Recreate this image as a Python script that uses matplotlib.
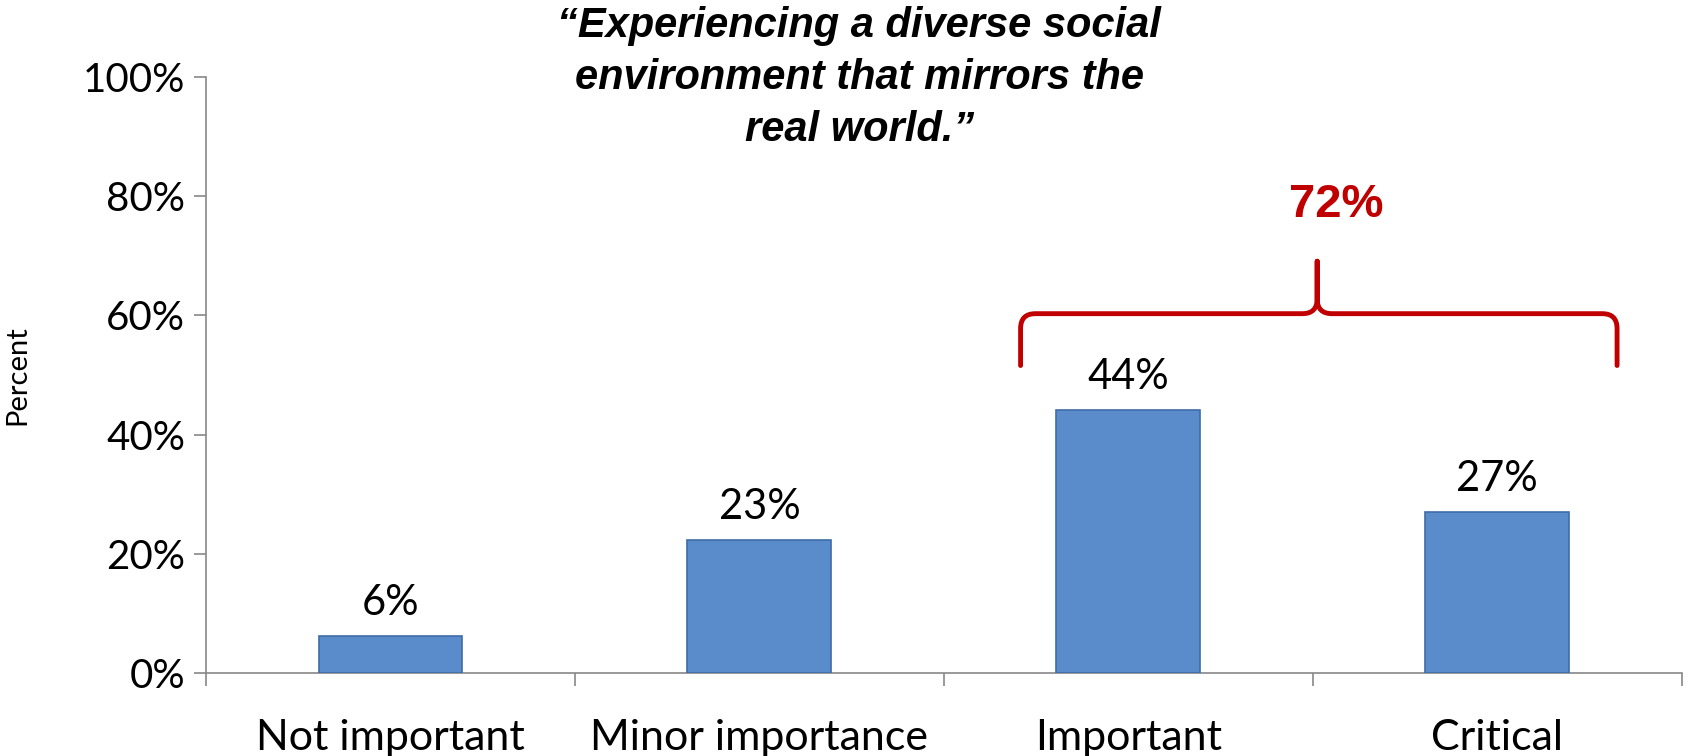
import matplotlib.pyplot as plt
from matplotlib.path import Path
from matplotlib.patches import PathPatch

categories = ['Not important', 'Minor importance', 'Important', 'Critical']
values = [6.2, 22.4, 44.1, 27.0]
value_labels = ['6%', '23%', '44%', '27%']
yticks = [0, 20, 40, 60, 80, 100]
ytick_labels = ['0%', '20%', '40%', '60%', '80%', '100%']
combined_label = '72%'
title = '\u201cExperiencing a diverse social\nenvironment that mirrors the\nreal world.\u201d'

plt.rcParams['font.family'] = ['Lato', 'DejaVu Sans']

fig = plt.figure(figsize=(16.85, 7.56), dpi=100)
ax = fig.add_axes([0.1223, 0.1098, 0.8757, 0.7882])

x = range(len(categories))
ax.bar(x, values, width=0.39, color='#5A8BCB', edgecolor='#3E6DA8', linewidth=1.2, zorder=3)

for i, v in enumerate(values):
    ax.annotate(value_labels[i], (i, v), xytext=(0, 10), textcoords='offset points',
                ha='center', va='bottom', fontsize=30)

ax.set_xlim(-0.5, 3.5)
ax.set_ylim(0, 100)
ax.set_yticks(yticks)
ax.set_yticklabels(ytick_labels, fontsize=29)
ax.set_xticks(list(x))
ax.set_xticklabels(categories, fontsize=31)
ax.set_xticks([-0.5, 0.5, 1.5, 2.5, 3.5], minor=True)
ax.tick_params(axis='x', which='major', length=0, pad=33)
ax.tick_params(axis='x', which='minor', length=9, color='#888888', width=1.2)
ax.tick_params(axis='y', length=9, color='#888888', width=1.2, pad=6)

for s in ['top', 'right']:
    ax.spines[s].set_visible(False)
ax.spines['left'].set_color('#888888')
ax.spines['bottom'].set_color('#888888')
ax.spines['left'].set_linewidth(1.2)
ax.spines['bottom'].set_linewidth(1.2)

ax.set_ylabel('Percent', fontsize=21)
ax.yaxis.set_label_coords(-0.119, 0.5)

# brace over Important + Critical
x0, x1, xm = 1.708, 3.325, 2.512
yb, ye, yt = 60.3, 51.6, 69.1
r = 0.04
verts = [(x0, ye), (x0, yb - 2.5), (x0, yb), (x0 + r, yb),
         (xm - r, yb), (xm, yb), (xm, yb + 2.5), (xm, yt),
         (xm, yb + 2.5), (xm, yb), (xm + r, yb),
         (x1 - r, yb), (x1, yb), (x1, yb - 2.5), (x1, ye)]
codes = [Path.MOVETO, Path.LINETO, Path.CURVE3, Path.CURVE3,
         Path.LINETO, Path.CURVE3, Path.CURVE3, Path.LINETO,
         Path.LINETO, Path.CURVE3, Path.CURVE3,
         Path.LINETO, Path.CURVE3, Path.CURVE3, Path.LINETO]
ax.add_patch(PathPatch(Path(verts, codes), fill=False, edgecolor='#C00000',
                       linewidth=3.5, capstyle='round', joinstyle='round', clip_on=False))
ax.text(2.565, 78.5, combined_label, color='#C00000', fontsize=34, fontweight='bold',
        family='Liberation Sans', ha='center', va='center')

fig.text(0.510, 0.992, title, ha='center', va='top', fontsize=30, fontweight='bold',
         fontstyle='italic', family='Liberation Sans', linespacing=1.38)

fig.savefig('out.png', dpi=100)
